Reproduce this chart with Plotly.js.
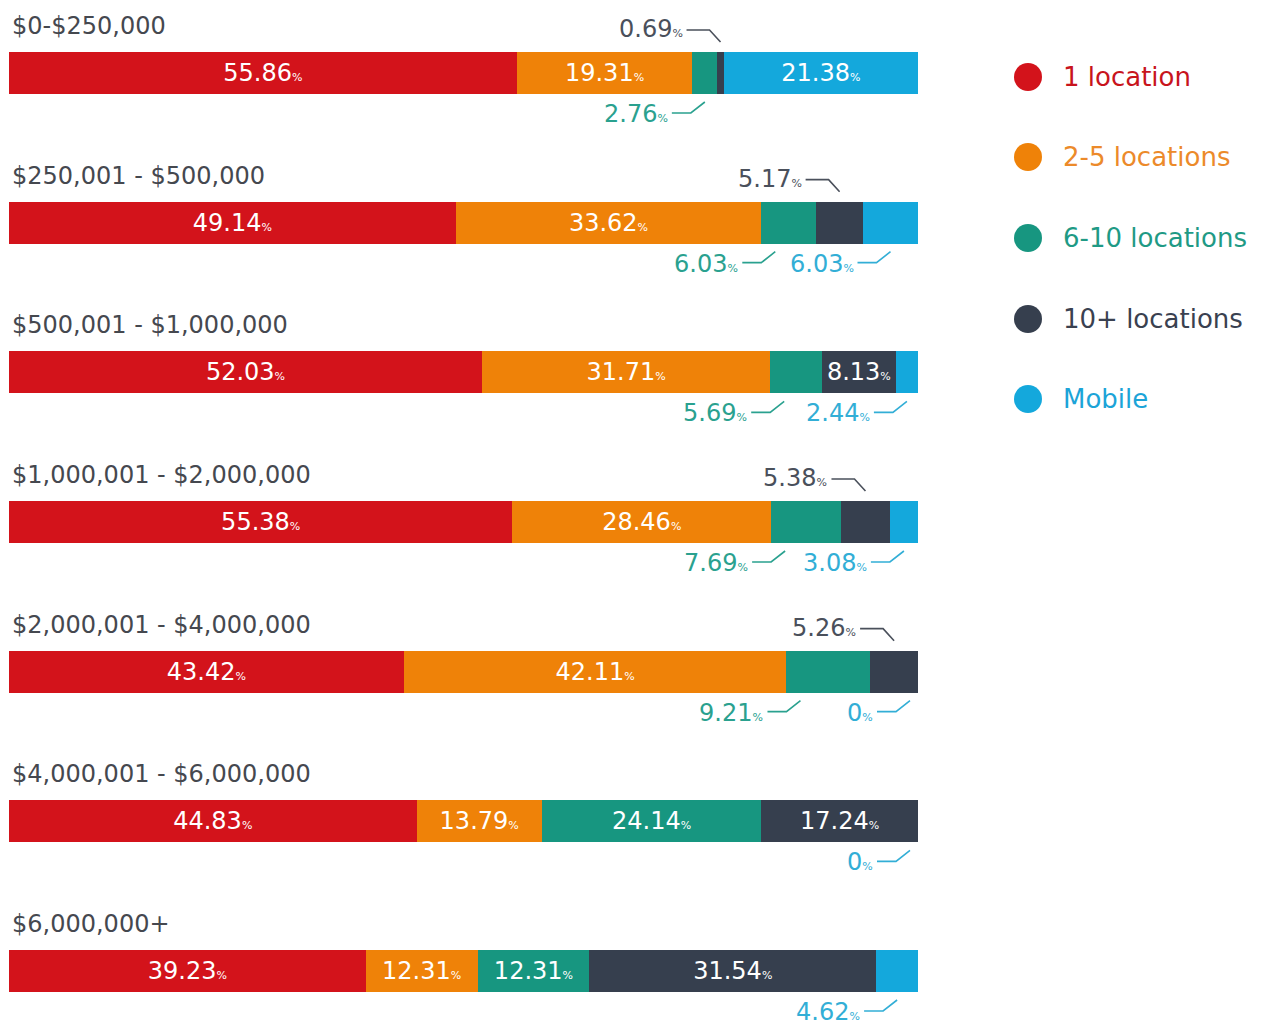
<!DOCTYPE html>
<html>
<head>
<meta charset="utf-8">
<script src="https://cdn.plot.ly/plotly-3.0.1.min.js"></script>
<style>html,body{margin:0;padding:0;background:#fff;}#chart{width:1264px;height:1025px;}</style>
</head>
<body>
<div id="chart"></div>
<script>
// ---- data ----
const categories = ["$0-$250,000", "$250,001 - $500,000", "$500,001 - $1,000,000", "$1,000,001 - $2,000,000", "$2,000,001 - $4,000,000", "$4,000,001 - $6,000,000", "$6,000,000+"];
const seriesNames = ["1 location", "2-5 locations", "6-10 locations", "10+ locations", "Mobile"];
const oneLocation   = [55.86, 49.14, 52.03, 55.38, 43.42, 44.83, 39.23];
const twoToFive     = [19.31, 33.62, 31.71, 28.46, 42.11, 13.79, 12.31];
const sixToTen      = [2.76, 6.03, 5.69, 7.69, 9.21, 24.14, 12.31];
const tenPlus       = [0.69, 5.17, 8.13, 5.38, 5.26, 17.24, 31.54];
const mobile        = [21.38, 6.03, 2.44, 3.08, 0, 0, 4.62];
// where each value label sits: "in" (inside bar), "above", "below"
const placeOne    = ["in","in","in","in","in","in","in"];
const placeTwo    = ["in","in","in","in","in","in","in"];
const placeSix    = ["below","below","below","below","below","in","in"];
const placeTen    = ["above","above","in","above","above","in","in"];
const placeMobile = ["in","below","below","below","below","below","below"];

// ---- styling ----
const values = [oneLocation, twoToFive, sixToTen, tenPlus, mobile];
const places = [placeOne, placeTwo, placeSix, placeTen, placeMobile];
const barColors = ["#d3131b", "#ef8208", "#179680", "#363f4e", "#14a8dc"];
const legendText = ["#c8141c", "#ec8a2a", "#1f9a85", "#3a4150", "#1ca4d8"];
const outColors = ["#c8141c", "#ec8a2a", "#2aa18f", "#4a505b", "#32aed6"];
const FONT = "DejaVu Sans";

const W = 1264, H = 1025, ML = 9, PLOTW = 909;
const rows = categories.map((_, i) => i);
const pxPerUnit = PLOTW / 100;
const rowPx = 149.67;
const barW = 42 / rowPx;
const pct = '<span style="font-size:11px">%</span>';
const esc = s => s.replace(/\$/g, '&#36;');

const traces = values.map((vals, s) => ({
  type: 'bar', orientation: 'h',
  x: vals, y: rows, name: seriesNames[s],
  width: barW,
  marker: {color: barColors[s], line: {width: 0}},
  text: vals.map((v, r) => places[s][r] === 'in' ? v + pct : ''),
  textposition: 'inside', insidetextanchor: 'middle', textangle: 0,
  constraintext: 'none',
  textfont: {family: FONT, size: 24, color: '#ffffff'},
  hoverinfo: 'skip', showlegend: false
}));

const annotations = [];
const shapes = [];

// category labels
categories.forEach((c, r) => {
  annotations.push({
    xref: 'paper', yref: 'y', x: 0, y: r, xanchor: 'left', yanchor: 'middle',
    xshift: 1, yshift: 47, showarrow: false, text: esc(c),
    font: {family: FONT, size: 24, color: '#45484f'}
  });
});

// outside labels with leader lines
values.forEach((vals, s) => {
  vals.forEach((v, r) => {
    const p = places[s][r];
    if (p === 'in') return;
    let start = 0;
    for (let k = 0; k < s; k++) start += values[k][r];
    const end = start + v;
    const mid = (start + end) / 2;
    let ex;
    if (p === 'above') ex = mid;
    else if (s === 4) ex = Math.min(mid, 100 - 8 / pxPerUnit);
    else ex = Math.min(mid, start + 14 / pxPerUnit);
    const col = outColors[s];
    if (p === 'above') {
      shapes.push({type: 'path', xref: 'x', yref: 'y', xsizemode: 'pixel', ysizemode: 'pixel',
        xanchor: ex, yanchor: r, path: 'M -34 43 L -11 43 L 0 31',
        line: {color: col, width: 1.6}});
      annotations.push({xref: 'x', yref: 'y', x: ex, y: r, xanchor: 'right', yanchor: 'middle',
        xshift: -36, yshift: 44, showarrow: false, text: v + pct,
        font: {family: FONT, size: 24, color: col}});
    } else {
      shapes.push({type: 'path', xref: 'x', yref: 'y', xsizemode: 'pixel', ysizemode: 'pixel',
        xanchor: ex, yanchor: r, path: 'M -33 -40 L -14 -40 L 0 -29',
        line: {color: col, width: 1.6}});
      annotations.push({xref: 'x', yref: 'y', x: ex, y: r, xanchor: 'right', yanchor: 'middle',
        xshift: -35, yshift: -41, showarrow: false, text: v + pct,
        font: {family: FONT, size: 24, color: col}});
    }
  });
});

// legend
const px2paperX = px => (px - ML) / (W - ML);
const px2paperY = py => 1 - py / H;
const legendY = [77, 157, 238, 319, 399];
seriesNames.forEach((n, s) => {
  shapes.push({type: 'circle', xref: 'paper', yref: 'paper', xsizemode: 'pixel', ysizemode: 'pixel',
    xanchor: px2paperX(1028), yanchor: px2paperY(legendY[s]), x0: -14, x1: 14, y0: -14, y1: 14,
    fillcolor: barColors[s], line: {width: 0}});
  annotations.push({xref: 'paper', yref: 'paper', x: px2paperX(1061), y: px2paperY(legendY[s]),
    xanchor: 'left', yanchor: 'middle', showarrow: false, text: n,
    font: {family: FONT, size: 26, color: legendText[s]}});
});

const layout = {
  width: W, height: H,
  margin: {l: ML, r: 0, t: 0, b: 0, pad: 0},
  paper_bgcolor: '#ffffff', plot_bgcolor: '#ffffff',
  barmode: 'stack', bargap: 0,
  showlegend: false,
  xaxis: {range: [0, 100], domain: [0, PLOTW / (W - ML)], visible: false, fixedrange: true},
  yaxis: {range: [6 + (H - 971) / rowPx, -73 / rowPx], visible: false, fixedrange: true},
  annotations: annotations,
  shapes: shapes,
  font: {family: FONT}
};

Plotly.newPlot('chart', traces, layout, {displayModeBar: false, staticPlot: true});
</script>
</body>
</html>
